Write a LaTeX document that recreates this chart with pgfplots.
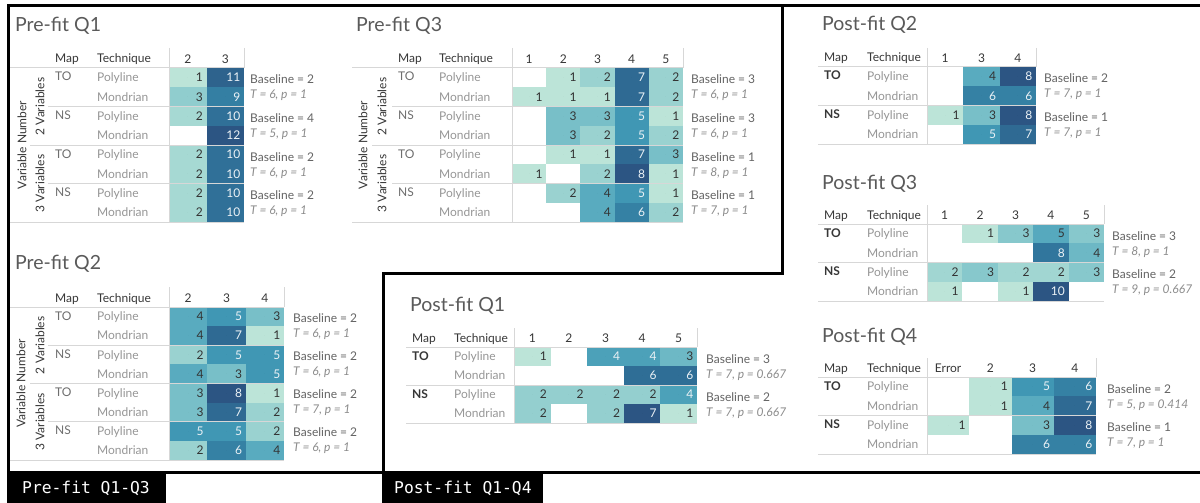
\documentclass[border=0pt]{standalone}
\usepackage{pgfplots}
\usepackage{pgfplotstable}
\pgfplotsset{compat=1.18}
\usepackage{fontspec}
\setmainfont{Lato}
\newfontfamily\monofont{DejaVu Sans Mono}

\definecolor{txtdark}{RGB}{51,51,51}
\definecolor{txtlight}{RGB}{236,242,246}
\definecolor{hdr}{RGB}{55,55,55}
\definecolor{techc}{RGB}{150,150,150}
\definecolor{mapc}{RGB}{110,110,110}
\definecolor{basec}{RGB}{100,100,100}
\definecolor{tpc}{RGB}{140,140,140}
\definecolor{titc}{RGB}{90,90,90}
\definecolor{sepc}{RGB}{215,215,215}

\newcommand\fb{\fontsize{12}{14}\selectfont}
\newdimen\cellw \newdimen\cellh
\newdimen\halfw
\pgfdeclareplotmark{cell}{%
  \pgfpathrectangle{\pgfpoint{-0.5\cellw}{-0.5\cellh}}{\pgfpoint{\cellw}{\cellh}}%
  \pgfusepathqfill}

\pgfplotsset{
  colormap={bt}{rgb255=(188,228,216) rgb255=(140,203,205) rgb255=(94,175,193) rgb255=(59,147,178) rgb255=(48,115,154) rgb255=(44,85,131)},
  hm/.style n args={6}{
    x=#1pt, y=#2pt,
    xmin=-0.5, xmax=#3, ymin=-0.5, ymax=#4,
    y dir=reverse, anchor=north west,
    axis line style={draw=none}, tick style={draw=none}, major tick length=0pt,
    xtick={0,...,5}, ytick={0,...,7},
    xticklabel pos=right,
    x tick label style={anchor=base, yshift=5pt, inner sep=0pt, text=hdr, font=\fb},
    y tick label style={anchor=base west, xshift=#6pt, yshift=-4.3pt, inner sep=0pt, text=techc, font=\fb},
    /pgf/number format/assume math mode=true,
    colormap name=bt, point meta min=1, point meta max=#5,
    clip=false,
    /utils/exec={\global\cellw=#1pt\relax\global\cellh=#2pt\relax\global\halfw=0.5\cellw\global\advance\halfw by -3.5pt\relax},
  },
  cells/.style={scatter, only marks, mark=cell,
    scatter/use mapped color={draw=none,fill=mapped color},
    point meta=explicit},
  vals/.style={only marks, mark=*, mark size=0pt, mark options={draw=none,fill=none},
    point meta=explicit,
    nodes near coords={\ifdim\pgfplotspointmetatransformed pt<499pt\relax\color{txtdark}\else\color{txtlight}\fi\pgfmathprintnumber{\pgfplotspointmeta}},
    every node near coord/.append style={anchor=base east, xshift=\halfw, yshift=-4.3pt, inner sep=0pt, font=\fb}},
}

% ---------------- data: c = column index, r = row index, v = count
\pgfplotstableread{
c r v
0 0 1
1 0 11
0 1 3
1 1 9
0 2 2
1 2 10
1 3 12
0 4 2
1 4 10
0 5 2
1 5 10
0 6 2
1 6 10
0 7 2
1 7 10
}\preA
\pgfplotstableread{
c r v
1 0 1
2 0 2
3 0 7
4 0 2
0 1 1
1 1 1
2 1 1
3 1 7
4 1 2
1 2 3
2 2 3
3 2 5
4 2 1
1 3 3
2 3 2
3 3 5
4 3 2
1 4 1
2 4 1
3 4 7
4 4 3
0 5 1
2 5 2
3 5 8
4 5 1
1 6 2
2 6 4
3 6 5
4 6 1
2 7 4
3 7 6
4 7 2
}\preC
\pgfplotstableread{
c r v
0 0 4
1 0 5
2 0 3
0 1 4
1 1 7
2 1 1
0 2 2
1 2 5
2 2 5
0 3 4
1 3 3
2 3 5
0 4 3
1 4 8
2 4 1
0 5 3
1 5 7
2 5 2
0 6 5
1 6 5
2 6 2
0 7 2
1 7 6
2 7 4
}\preB
\pgfplotstableread{
c r v
0 0 1
2 0 4
3 0 4
4 0 3
3 1 6
4 1 6
0 2 2
1 2 2
2 2 2
3 2 2
4 2 4
0 3 2
2 3 2
3 3 7
4 3 1
}\postA
\pgfplotstableread{
c r v
1 0 4
2 0 8
1 1 6
2 1 6
0 2 1
1 2 3
2 2 8
1 3 5
2 3 7
}\postB
\pgfplotstableread{
c r v
1 0 1
2 0 3
3 0 5
4 0 3
3 1 8
4 1 4
0 2 2
1 2 3
2 2 2
3 2 2
4 2 3
0 3 1
2 3 1
3 3 10
}\postC
\pgfplotstableread{
c r v
1 0 1
2 0 5
3 0 6
1 1 1
2 1 4
3 1 7
0 2 1
2 2 3
3 2 8
2 3 6
3 3 6
}\postD

\newcommand\ann[5]{%
  \node[bl] at (#1,#2+16) {Baseline = #3};
  \node[tp] at (#1,#2+31) {T = #4, p = #5};}

\begin{document}
\begin{tikzpicture}[
  ttl/.style={anchor=base west, inner sep=0pt, text=titc, font=\fontsize{19.5}{22}\selectfont},
  hd/.style={anchor=base west, inner sep=0pt, text=hdr, font=\fb},
  mp/.style={anchor=base west, inner sep=0pt, text=mapc, font=\fb},
  mpb/.style={anchor=base west, inner sep=0pt, text=hdr, font=\fb\bfseries},
  bl/.style={anchor=base west, inner sep=0pt, text=basec, font=\fb},
  tp/.style={anchor=base west, inner sep=0pt, text=tpc, font=\fb\itshape},
  vl/.style={rotate=90, inner sep=0pt, text=hdr, font=\fb},
  sep/.style={draw=sepc, line width=1pt},
  bd/.style={draw=black, line width=3pt},
]
\useasboundingbox (0pt,0pt) rectangle (1200pt,-503pt);
\fill[white] (0pt,0pt) rectangle (1200pt,-503pt);

% ================= Pre-fit Q1
\begin{axis}[hm={37.5}{19.25}{1.5}{7.5}{12}{-72}, at={(169pt,-68pt)},
  xticklabels={2,3},
  yticklabels={Polyline,Mondrian,Polyline,Mondrian,Polyline,Mondrian,Polyline,Mondrian}]
\addplot[cells] table[x=c,y=r,meta=v]{\preA};
\addplot[vals] table[x=c,y=r,meta=v]{\preA};
\end{axis}
% ================= Pre-fit Q3
\begin{axis}[hm={34.2}{19.25}{4.5}{7.5}{8}{-73}, at={(512pt,-68pt)},
  xticklabels={1,2,3,4,5},
  yticklabels={Polyline,Mondrian,Polyline,Mondrian,Polyline,Mondrian,Polyline,Mondrian}]
\addplot[cells] table[x=c,y=r,meta=v]{\preC};
\addplot[vals] table[x=c,y=r,meta=v]{\preC};
\end{axis}
% ================= Pre-fit Q2
\begin{axis}[hm={38.33}{19.125}{2.5}{7.5}{8}{-72}, at={(169pt,-307pt)},
  xticklabels={2,3,4},
  yticklabels={Polyline,Mondrian,Polyline,Mondrian,Polyline,Mondrian,Polyline,Mondrian}]
\addplot[cells] table[x=c,y=r,meta=v]{\preB};
\addplot[vals] table[x=c,y=r,meta=v]{\preB};
\end{axis}
% ================= Post-fit Q1
\begin{axis}[hm={36.6}{19}{4.5}{3.5}{7}{-60}, at={(514pt,-347pt)},
  xticklabels={1,2,3,4,5},
  yticklabels={Polyline,Mondrian,Polyline,Mondrian}]
\addplot[cells] table[x=c,y=r,meta=v]{\postA};
\addplot[vals] table[x=c,y=r,meta=v]{\postA};
\end{axis}
% ================= Post-fit Q2
\begin{axis}[hm={36.33}{19.25}{2.5}{3.5}{8}{-60}, at={(927pt,-67pt)},
  xticklabels={1,3,4},
  yticklabels={Polyline,Mondrian,Polyline,Mondrian}]
\addplot[cells] table[x=c,y=r,meta=v]{\postB};
\addplot[vals] table[x=c,y=r,meta=v]{\postB};
\end{axis}
% ================= Post-fit Q3
\begin{axis}[hm={35.4}{19.25}{4.5}{3.5}{10}{-60}, at={(927pt,-224pt)},
  xticklabels={1,2,3,4,5},
  yticklabels={Polyline,Mondrian,Polyline,Mondrian}]
\addplot[cells] table[x=c,y=r,meta=v]{\postC};
\addplot[vals] table[x=c,y=r,meta=v]{\postC};
\end{axis}
% ================= Post-fit Q4
\begin{axis}[hm={42.25}{19.25}{3.5}{3.5}{8}{-60}, at={(927pt,-377pt)},
  xticklabels={Error,2,3,4},
  yticklabels={Polyline,Mondrian,Polyline,Mondrian}]
\addplot[cells] table[x=c,y=r,meta=v]{\postD};
\addplot[vals] table[x=c,y=r,meta=v]{\postD};
\end{axis}

\begin{scope}[x=1pt,y=-1pt]
% ---------- separators
\foreach \y/\xa in {68/10,106.5/48,145/30,183.5/48,222/10} \draw[sep] (\xa,\y) -- (244,\y);
\draw[sep] (169,48) -- (169,222); \draw[sep] (244,48) -- (244,68);
\foreach \y/\xa in {68/352,106.5/392,145/372,183.5/392,222/352} \draw[sep] (\xa,\y) -- (683,\y);
\draw[sep] (512,48) -- (512,222); \draw[sep] (683,48) -- (683,68);
\foreach \y/\xa in {307/10,345.25/48,383.5/30,421.75/48,460/10} \draw[sep] (\xa,\y) -- (284,\y);
\draw[sep] (169,287) -- (169,460); \draw[sep] (284,287) -- (284,307);
\foreach \y in {347,385,423} \draw[sep] (406,\y) -- (697,\y);
\draw[sep] (514,328) -- (514,423); \draw[sep] (697,328) -- (697,347);
\foreach \y in {67,105.5,144} \draw[sep] (818,\y) -- (1036,\y);
\draw[sep] (927,48) -- (927,144); \draw[sep] (1036,48) -- (1036,67);
\foreach \y in {224,262.5,301} \draw[sep] (818,\y) -- (1104,\y);
\draw[sep] (927,205) -- (927,301); \draw[sep] (1104,205) -- (1104,224);
\foreach \y in {377,415.5,454} \draw[sep] (818,\y) -- (1096,\y);
\draw[sep] (927,358) -- (927,454); \draw[sep] (1096,358) -- (1096,377);

% ---------- titles
\node[ttl] at (15,32) {Pre-fit Q1};
\node[ttl] at (356,32) {Pre-fit Q3};
\node[ttl] at (15,269) {Pre-fit Q2};
\node[ttl] at (410,311) {Post-fit Q1};
\node[ttl] at (822,31) {Post-fit Q2};
\node[ttl] at (822,189) {Post-fit Q3};
\node[ttl] at (822,342) {Post-fit Q4};

% ---------- headers
\node[hd] at (55,63) {Map}; \node[hd] at (97,63) {Technique};
\node[hd] at (398,63) {Map}; \node[hd] at (439,63) {Technique};
\node[hd] at (55,302) {Map}; \node[hd] at (97,302) {Technique};
\node[hd] at (412,342) {Map}; \node[hd] at (454,342) {Technique};
\node[hd] at (824,62) {Map}; \node[hd] at (867,62) {Technique};
\node[hd] at (824,219) {Map}; \node[hd] at (867,219) {Technique};
\node[hd] at (824,372.5) {Map}; \node[hd] at (867,372.5) {Technique};

% ---------- vertical labels (pre-fit)
\node[vl] at (22,145) {Variable Number};
\node[vl] at (40,106.5) {2 Variables};
\node[vl] at (40,183.5) {3 Variables};
\node[vl] at (363,145) {Variable Number};
\node[vl] at (382,106.5) {2 Variables};
\node[vl] at (382,183.5) {3 Variables};
\node[vl] at (21,383.5) {Variable Number};
\node[vl] at (40,345.25) {2 Variables};
\node[vl] at (40,421.75) {3 Variables};

% ---------- map labels
\foreach \g/\m in {0/TO,1/NS,2/TO,3/NS} {
  \node[mp] at (55,{68+38.5*\g+13}) {\m};
  \node[mp] at (398,{68+38.5*\g+13}) {\m};
  \node[mp] at (55,{307+38.25*\g+13}) {\m};
}
\foreach \g/\m in {0/TO,1/NS} {
  \node[mpb] at (412,{347+38*\g+13}) {\m};
  \node[mpb] at (824,{67+38.5*\g+13}) {\m};
  \node[mpb] at (824,{224+38.5*\g+13}) {\m};
  \node[mpb] at (824,{377+38.5*\g+13}) {\m};
}

% ---------- baseline annotations
\ann{250}{68}{2}{6}{1}
\ann{250}{106.5}{4}{5}{1}
\ann{250}{145}{2}{6}{1}
\ann{250}{183.5}{2}{6}{1}
\ann{691}{68}{3}{6}{1}
\ann{691}{106.5}{3}{6}{1}
\ann{691}{145}{1}{8}{1}
\ann{691}{183.5}{1}{7}{1}
\ann{293}{306}{2}{6}{1}
\ann{293}{344.25}{2}{6}{1}
\ann{293}{382.5}{2}{7}{1}
\ann{293}{420.75}{2}{6}{1}
\ann{706}{347}{3}{7}{0.667}
\ann{706}{385}{2}{7}{0.667}
\ann{1044}{67}{2}{7}{1}
\ann{1044}{105.5}{1}{7}{1}
\ann{1112}{224}{3}{8}{1}
\ann{1112}{262.5}{2}{9}{0.667}
\ann{1107}{377}{2}{5}{0.414}
\ann{1107}{415.5}{1}{7}{1}

% ---------- borders and tabs
\draw[bd] (8.5,472) -- (8.5,5.5) -- (1200,5.5);
\draw[bd] (782,5.5) -- (782,273) -- (383,273) -- (383,472);
\draw[bd] (7,472) -- (1200,472);
\fill[black] (7,470.5) rectangle (166,503);
\fill[black] (381.5,470.5) rectangle (543,503);
\node[anchor=base west, inner sep=0pt, text=white, font=\monofont\fontsize{16.3}{18}\selectfont] at (22,493) {Pre-fit Q1-Q3};
\node[anchor=base west, inner sep=0pt, text=white, font=\monofont\fontsize{16.3}{18}\selectfont] at (394,493) {Post-fit Q1-Q4};
\end{scope}
\end{tikzpicture}
\end{document}
